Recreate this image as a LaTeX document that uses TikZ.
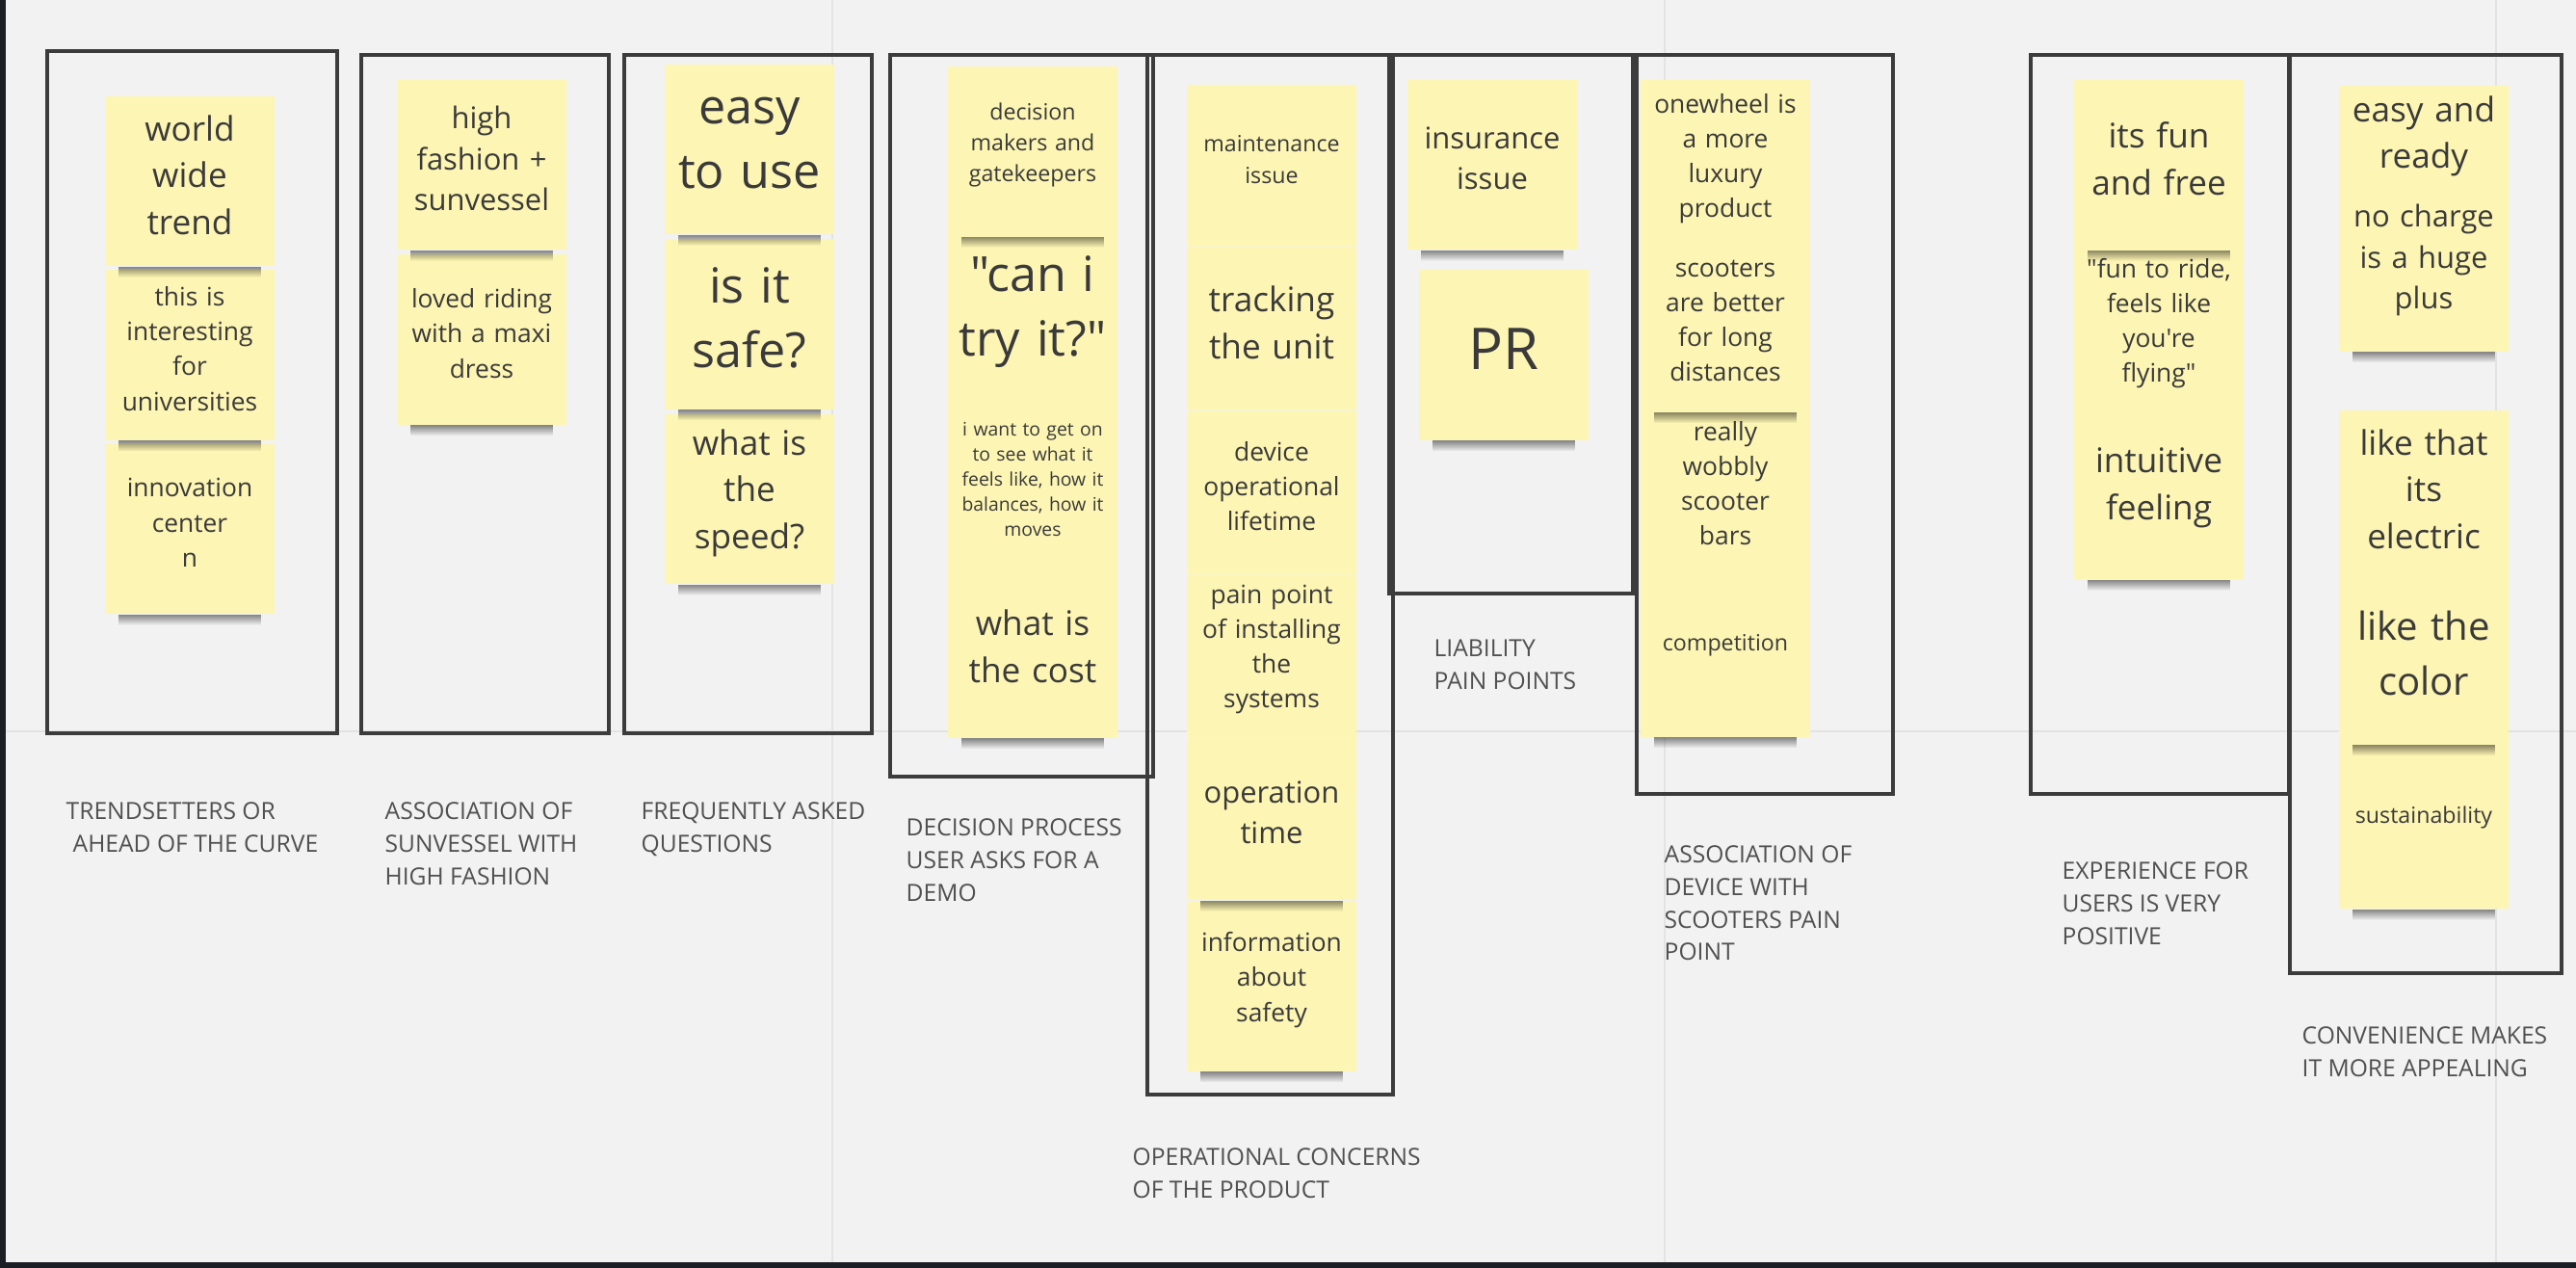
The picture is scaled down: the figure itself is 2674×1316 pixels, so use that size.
\documentclass[tikz,border=0pt]{standalone}
\usepackage{fontspec}
\setmainfont{Open Sans}[Ligatures=TeXOff]
\usetikzlibrary{positioning,fadings}
\definecolor{board}{HTML}{F2F2F2}
\definecolor{gridcol}{HTML}{E3E3E3}
\definecolor{sticky}{HTML}{FDF5B3}
\definecolor{ink}{HTML}{3A3A3A}
\definecolor{capcol}{HTML}{505050}
\definecolor{framecol}{HTML}{3C3C3C}
\definecolor{edgecol}{HTML}{1B1E24}
\tikzfading[name=dropfade, top color=transparent!0, bottom color=transparent!100]

\begin{document}
\begin{tikzpicture}[
    x=0.01cm, y=-0.01cm,
    note/.style={rectangle, fill=sticky, text=ink, minimum width=1.76cm, minimum height=1.76cm,
        text width=1.7cm, align=center, inner sep=0pt,
        execute at end node={\endgraf\vspace*{0.13cm}}},
    shortnote/.style={note, minimum height=1.68cm},
    txtbig/.style={font=\fontsize{14.3}{19}\selectfont},
    txtmid/.style={font=\fontsize{10}{13.8}\selectfont},
    txtsmall/.style={font=\fontsize{8.8}{12}\selectfont},
    txttiny/.style={font=\fontsize{7.5}{10.3}\selectfont},
    txtmini/.style={font=\fontsize{6.6}{9.2}\selectfont},
    txtmicro/.style={font=\fontsize{5.5}{7.4}\selectfont},
    boardframe/.style={draw=framecol, line width=0.9pt},
    caption/.style={anchor=north west, inner sep=0pt, align=left, text=capcol,
        font=\fontsize{7}{9.6}\selectfont},
    notedrop/.style={fill=black, opacity=0.45, path fading=dropfade},
    gridrule/.style={draw=gridcol, line width=0.6pt}
  ]
  \useasboundingbox (0,0) rectangle (2674,1316);
  \fill[board] (0,0) rectangle (2674,1316);
  \draw[gridrule] (864,0) -- (864,1316) (1728,0) -- (1728,1316)
    (2591,0) -- (2591,1316) (0,759) -- (2674,759);
  \fill[edgecol] (0,0) rectangle (6,1316);
  \fill[edgecol] (0,1310) rectangle (2674,1316);

  % frames
  \draw[boardframe] (49,53) rectangle (350,761);
  \draw[boardframe] (375,57) rectangle (632,761);
  \draw[boardframe] (648,57) rectangle (905,761);
  \draw[boardframe] (924,57) rectangle (1197,806);
  \draw[boardframe] (1191,57) rectangle (1446,1136);
  \draw[boardframe] (1442,57) rectangle (1695,616);
  \draw[boardframe] (1699,57) rectangle (1965,824);
  \draw[boardframe] (2108,57) rectangle (2376,824);
  \draw[boardframe] (2377,57) rectangle (2659,1010);

  % trendsetters
  \node[note, txtmid] (trend) at (197,188) {world\\wide\\trend};
  \node[note, txttiny, below=0.03cm of trend] (univ) {this is\\interesting\\for\\universities};
  \node[note, txttiny, below=0.03cm of univ] (innov) {innovation\\center\\n};
  % high fashion
  \node[note, txtsmall] (fashion) at (500,171) {high\\fashion +\\sunvessel};
  \node[note, txttiny, below=0.04cm of fashion] (dress) {loved riding\\with a maxi\\dress};
  % questions
  \node[note, txtbig] (easy) at (778,155) {easy\\to use};
  \node[note, txtbig, below=0.04cm of easy] (safe) {is it\\safe?};
  \node[note, txtmid, below=0.04cm of safe] (speed) {what is\\the\\speed?};
  % decision process
  \node[note, txtmini] (gate) at (1072,157) {decision\\makers and\\gatekeepers};
  \node[note, txtbig, below=-0.04cm of gate] (try) {"can i\\try it?"};
  \node[note, txtmicro, below=-0.04cm of try] (feel) {i want to get on\\to see what it\\feels like, how it\\balances, how it\\moves};
  \node[note, txtmid, below=-0.04cm of feel] (cost) {what is\\the cost};
  % operational concerns
  \node[shortnote, txtmini] (maint) at (1320,172) {maintenance\\issue};
  \node[shortnote, txtmid, below=0cm of maint] (track) {tracking\\the unit};
  \node[shortnote, txttiny, below=0cm of track] (life) {device\\operational\\lifetime};
  \node[shortnote, txttiny, below=0cm of life] (install) {pain point\\of installing\\the\\systems};
  \node[shortnote, txtsmall, below=0cm of install] (optime) {operation\\time};
  \node[note, txttiny, below=0cm of optime] (info) {information\\about\\safety};
  % liability
  \node[note, txtsmall] (insur) at (1549,171) {insurance\\issue};
  \node[note, font=\fontsize{17}{20}\selectfont, below=0.2cm of insur, xshift=0.12cm] (pr) {PR};
  % scooters
  \node[note, txttiny] (luxury) at (1791,171) {onewheel is\\a more\\luxury\\product};
  \node[note, txttiny, below=-0.09cm of luxury] (longdist) {scooters\\are better\\for long\\distances};
  \node[note, txttiny, below=-0.09cm of longdist] (wobbly) {really\\wobbly\\scooter\\bars};
  \node[note, txtmini, below=-0.09cm of wobbly] (compet) {competition};
  % experience
  \node[note, txtmid] (funfree) at (2241,171) {its fun\\and free};
  \node[note, txttiny, below=-0.065cm of funfree] (flying) {"fun to ride,\\feels like\\you're\\flying"};
  \node[note, txtmid, below=-0.065cm of flying] (intuit) {intuitive\\feeling};
  % convenience
  \node[note, txtmid, minimum height=1.18cm] (ready) at (2516,148) {easy and\\ready};
  \node[note, txtsmall, below=-0.2cm of ready] (charge) {no charge\\is a huge\\plus};
  \node[note, txtmid, below=0.6cm of charge] (electric) {like that\\its\\electric};
  \node[note, font=\fontsize{11.4}{16}\selectfont, below=-0.07cm of electric] (color) {like the\\color};
  \node[note, txtmini, below=-0.07cm of color] (sustain) {sustainability};

  % note shadows
  \foreach \n in {trend,univ,innov,fashion,dress,easy,safe,speed,gate,cost,optime,info,
      insur,pr,longdist,compet,funfree,intuit,charge,color,sustain}
    \fill[notedrop] ([xshift=0.15cm]\n.south west) rectangle ([xshift=-0.15cm,yshift=-0.11cm]\n.south east);

  % captions
  \node[caption] (captrend) at (68,832) {TRENDSETTERS OR\\\hspace*{0.07cm}AHEAD OF THE CURVE};
  \node[caption] (capfashion) at (399,832) {ASSOCIATION OF\\SUNVESSEL WITH\\HIGH FASHION};
  \node[caption] (capfaq) at (665,832) {FREQUENTLY ASKED\\QUESTIONS};
  \node[caption] (capdemo) at (940,849) {DECISION PROCESS\\USER ASKS FOR A\\DEMO};
  \node[caption] (capops) at (1175,1191) {OPERATIONAL CONCERNS\\OF THE PRODUCT};
  \node[caption] (capliab) at (1488,663) {LIABILITY\\PAIN POINTS};
  \node[caption] (capscoot) at (1727,877) {ASSOCIATION OF\\DEVICE WITH\\SCOOTERS PAIN\\POINT};
  \node[caption] (capexp) at (2140,894) {EXPERIENCE FOR\\USERS IS VERY\\POSITIVE};
  \node[caption] (capconv) at (2389,1065) {CONVENIENCE MAKES\\IT MORE APPEALING};
\end{tikzpicture}
\end{document}
